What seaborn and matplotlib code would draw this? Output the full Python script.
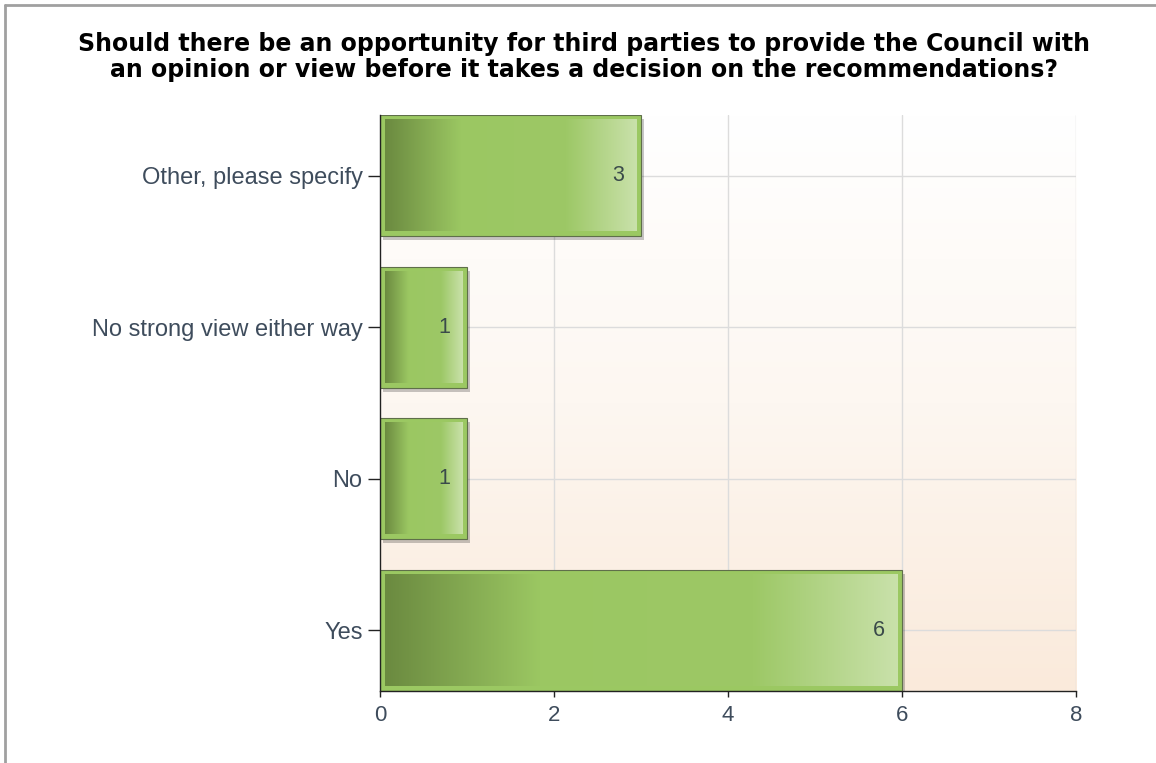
import numpy as np
import pandas as pd
import matplotlib
matplotlib.use('Agg')
import matplotlib.pyplot as plt
import seaborn as sns
from matplotlib.colors import LinearSegmentedColormap
from matplotlib.patches import Rectangle
from matplotlib.lines import Line2D

title = ("Should there be an opportunity for third parties to provide the Council with\n"
         "an opinion or view before it takes a decision on the recommendations?")
categories = ["Other, please specify", "No strong view either way", "No", "Yes"]
counts = [3, 1, 1, 6]
x_ticks = [0, 2, 4, 6, 8]

df = pd.DataFrame({"answer": categories, "count": counts})

sns.set_theme(style="white")
plt.rcParams['font.family'] = ['Liberation Sans', 'DejaVu Sans']

fig = plt.figure(figsize=(11.56, 7.63), dpi=100)
ax = fig.add_axes([0.3287, 0.0944, 0.6021, 0.7549])

# background gradient: white at top -> light peach at bottom
bg = LinearSegmentedColormap.from_list("bg", ["#ffffff", "#fdf7f1", "#faeadb"])
ax.imshow(np.linspace(0, 1, 256).reshape(-1, 1), cmap=bg, aspect="auto",
          extent=(0, 8, 3.4, -0.4), zorder=0)

sns.barplot(data=df, x="count", y="answer", orient="h", color="#9bc862",
            width=0.8, saturation=1, edgecolor="#5f6f4a", linewidth=0.8,
            ax=ax, zorder=3)

ax.set_xlim(0, 8)
ax.set_ylim(3.4, -0.4)
ax.set_xticks(x_ticks)
ax.set_xticklabels([str(t) for t in x_ticks])

# grid lines
for t in x_ticks[1:]:
    ax.axvline(t, color="#dcdcdc", lw=1, zorder=1)
for i in range(len(categories)):
    ax.axhline(i, color="#dcdcdc", lw=1, zorder=1)

# bar inner gradient + drop shadow
bar_cmap = LinearSegmentedColormap.from_list(
    "bar", [(0, "#6b8a40"), (0.3, "#9bc762"), (0.72, "#9dc866"), (1, "#c9e1aa")])
grad = np.linspace(0, 1, 256).reshape(1, -1)
px_x = 8 / 696.0
px_y = 3.8 / 576.0
for p in ax.patches:
    x0, y0 = p.get_x(), p.get_y()
    w, h = p.get_width(), p.get_height()
    ax.add_patch(Rectangle((x0 + 3 * px_x, y0 + 4 * px_y), w, h, facecolor="#000000",
                           alpha=0.22, lw=0, zorder=2))
    ax.imshow(grad, cmap=bar_cmap, aspect="auto", zorder=4,
              extent=(x0 + 5 * px_x, x0 + w - 5 * px_x, y0 + h - 5 * px_y, y0 + 5 * px_y))

ax.set_xlim(0, 8)
ax.set_ylim(3.4, -0.4)

# value labels inside bar end
for i, v in enumerate(counts):
    ax.text(v - 17 * px_x, i, str(v), ha="right", va="center", fontsize=15.5,
            color="#3a4a4a", zorder=5)

ax.set_xlabel("")
ax.set_ylabel("")
for s in ["top", "right"]:
    ax.spines[s].set_visible(False)
for s in ["left", "bottom"]:
    ax.spines[s].set_color("#222222")
    ax.spines[s].set_linewidth(1)
    ax.spines[s].set_zorder(6)
ax.tick_params(axis="both", which="both", direction="out", width=1,
               color="#222222", labelsize=17, labelcolor="#3e4c5c",
               left=True, bottom=True)
ax.tick_params(axis="y", length=8.5, pad=4)
ax.tick_params(axis="x", length=4, pad=6, labelsize=16)

fig.suptitle(title, fontsize=17, fontweight="bold", color="#000000", x=0.505, y=0.958,
             va="top", linespacing=1.12, family=["DejaVu Sans"])

# outer frame: left and top edges only
fig.add_artist(Line2D([0.0045, 0.0045], [0, 0.994], transform=fig.transFigure,
                      color="#a0a0a0", lw=2))
fig.add_artist(Line2D([0.0045, 1], [0.994, 0.994], transform=fig.transFigure,
                      color="#a0a0a0", lw=2))

fig.savefig("out.png", dpi=100)
